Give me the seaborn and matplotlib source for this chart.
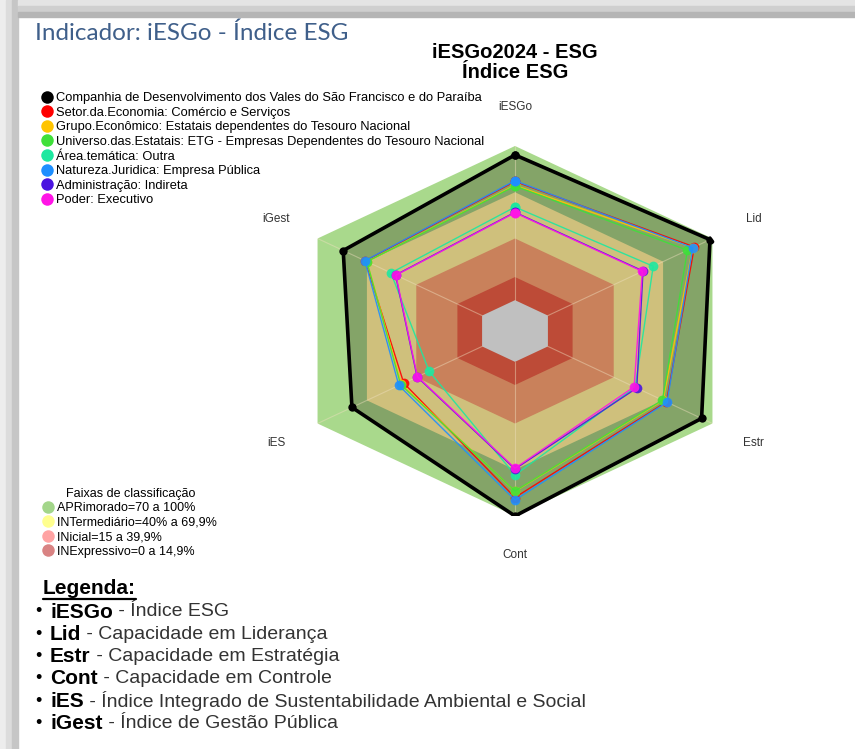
import numpy as np
import pandas as pd
import matplotlib
matplotlib.use('Agg')
import matplotlib.pyplot as plt
from matplotlib.patches import Rectangle
from matplotlib.lines import Line2D
import seaborn as sns

# eixos do radar (sentido horario a partir do topo)
eixos = ['iESGo', 'Lid', 'Estr', 'Cont', 'iES', 'iGest']

series_nomes = [
    'Companhia de Desenvolvimento dos Vales do São Francisco e do Paraíba',
    'Setor.da.Economia: Comércio e Serviços',
    'Grupo.Econômico: Estatais dependentes do Tesouro Nacional',
    'Universo.das.Estatais: ETG - Empresas Dependentes do Tesouro Nacional',
    'Área.temática: Outra',
    'Natureza.Juridica: Empresa Pública',
    'Administração: Indireta',
    'Poder: Executivo',
]
series_cores = ['#000000', '#ff0000', '#ffc400', '#3fe03a', '#1de8a0',
                '#1e8fff', '#4a14e0', '#ff14e6']

companhia = [94.2, 98.5, 93.4, 100.0, 79.1, 84.4]
setor = [77.0, 89.0, 72.0, 88.0, 47.6, 71.0]
grupo = [74.5, 88.0, 70.0, 84.0, 49.0, 70.0]
universo = [74.0, 84.8, 69.6, 83.8, 49.5, 70.0]
area_tematica = [60.4, 64.0, 53.0, 73.4, 32.2, 55.4]
natureza = [77.5, 88.0, 72.4, 89.6, 50.6, 71.2]
administracao = [57.0, 57.8, 54.0, 69.5, 39.5, 52.6]
poder = [56.7, 57.4, 52.4, 69.0, 39.3, 52.4]
valores = [companhia, setor, grupo, universo, area_tematica, natureza,
           administracao, poder]

# faixas de classificacao
faixas_nomes = ['APRimorado=70 a 100%', 'INTermediário=40% a 69,9%',
                'INicial=15 a 39,9%', 'INExpressivo=0 a 14,9%']
faixas_cores = ['#a3d68a', '#ffff8f', '#ffa3a3', '#d98383']
faixas_limites = [100, 70, 40, 15, 0]
faixas_preench = ['#a9d98c', '#cfc07c', '#c9815b', '#bd4b37', '#c0c0c0']
companhia_preench = '#84a468'

legenda_chaves = ['iESGo', 'Lid', 'Estr', 'Cont', 'iES', 'iGest']
legenda_desc = ['Índice ESG', 'Capacidade em Liderança',
                'Capacidade em Estratégia', 'Capacidade em Controle',
                'Índice Integrado de Sustentabilidade Ambiental e Social',
                'Índice de Gestão Pública']

sns.set_style('white')
plt.rcParams['font.family'] = ['Liberation Sans', 'DejaVu Sans']
plt.rcParams['text.color'] = 'black'

W, H = 855, 749
fig = plt.figure(figsize=(W / 100, H / 100), dpi=100)

# moldura cinza do print
for x0, w, c in [(0, 6, '#ededed'), (6, 6, '#dcdcdc'), (12, 6, '#c6c6c6')]:
    fig.patches.append(Rectangle((x0 / W, 0), w / W, 1, transform=fig.transFigure,
                                 color=c, zorder=0))
for y0, h, c in [(0, 6, '#e4e4e4'), (6, 6, '#cfcfcf'), (12, 5, '#b5b5b5')]:
    fig.patches.append(Rectangle((18 / W, 1 - (y0 + h) / H), 1, h / H,
                                 transform=fig.transFigure, color=c, zorder=0))

fig.text(35 / W, 1 - 33 / H, 'Indicador: iESGo - Índice ESG', fontsize=17.5,
         family='Lato', color='#3f5f8a', va='center', ha='left')
fig.text(515 / W, 1 - 52 / H, 'iESGo2024 - ESG', fontsize=14.5, weight='bold',
         ha='center', va='center')
fig.text(515 / W, 1 - 72 / H, 'Índice ESG', fontsize=14.5, weight='bold',
         ha='center', va='center')

# radar (achatado verticalmente como no original)
ax = fig.add_axes([287 / W, 1 - 516 / H, 456 / W, 370 / H], projection='polar')
ax.set_aspect('auto')
ax.set_theta_offset(np.pi / 2)
ax.set_theta_direction(-1)
ax.patch.set_alpha(0)

theta = np.linspace(0, 2 * np.pi, len(eixos), endpoint=False)
theta_f = np.append(theta, 2 * np.pi)

ax.fill(theta_f, [faixas_limites[0]] * 7, color=faixas_preench[0], lw=0, zorder=1)
ax.fill(theta_f, companhia + companhia[:1], color=companhia_preench, lw=0, zorder=2)
for lim, cor in zip(faixas_limites[1:], faixas_preench[1:]):
    ax.fill(theta_f, [lim] * 7, color=cor, lw=0, zorder=3)
for t in theta:
    ax.plot([t, t], [0, 100], color='#f0e0c0', alpha=0.45, lw=0.8, zorder=4)

linhas = []
for nome, vals in zip(series_nomes, valores):
    for i, t in enumerate(list(theta_f)):
        linhas.append({'serie': nome, 'theta': t, 'valor': vals[i % 6], 'ordem': i})
df = pd.DataFrame(linhas)
paleta = dict(zip(series_nomes, series_cores))

sns.lineplot(data=df[df['serie'] == series_nomes[0]], x='theta', y='valor',
             color='black', sort=False, estimator=None, lw=2.6, marker='o',
             markersize=6, markeredgewidth=0, legend=False, ax=ax, zorder=5)
sns.lineplot(data=df[df['serie'] != series_nomes[0]], x='theta', y='valor',
             hue='serie', hue_order=series_nomes[1:], palette=paleta,
             sort=False, estimator=None, lw=1.0, marker='o', markersize=7,
             markeredgewidth=0, legend=False, ax=ax, zorder=6, alpha=0.9)

ax.set_ylim(-20, 100)
ax.set_xticks([])
ax.set_yticks([])
ax.grid(False)
ax.spines['polar'].set_visible(False)
ax.set_xlabel('')
ax.set_ylabel('')
for t, lab in zip(theta, eixos):
    ax.text(t, 125, lab, ha='center', va='center', fontsize=8.5, color='#333333')

# legenda das series
h_series = [Line2D([], [], marker='o', ls='', color=c, markersize=9,
                   markeredgewidth=0) for c in series_cores]
fig.legend(h_series, series_nomes, loc='upper left',
           bbox_to_anchor=(42 / W, 1 - 92 / H), frameon=False, fontsize=9.3,
           handlelength=0.75, handletextpad=0.3, labelspacing=0.2,
           borderpad=0, borderaxespad=0)

# legenda das faixas
h_faixas = [Line2D([], [], marker='o', ls='', color=c, markersize=9,
                   markeredgewidth=0) for c in faixas_cores]
fig.legend(h_faixas, faixas_nomes, loc='upper left',
           title='Faixas de classificação', title_fontsize=9,
           bbox_to_anchor=(40 / W, 1 - 484 / H), frameon=False,
           fontsize=9, handlelength=0.75, handletextpad=0.3,
           labelspacing=0.2, borderpad=0.3, borderaxespad=0)

# bloco "Legenda:"
renderer = fig.canvas.get_renderer()
t_leg = fig.text(43 / W, 1 - 588 / H, 'Legenda:', fontsize=15, weight='bold',
                 va='center', ha='left')
bb = t_leg.get_window_extent(renderer)
fig.add_artist(Line2D([bb.x0, bb.x1], [bb.y0 - 1, bb.y0 - 1], color='black',
                      lw=1.6, transform=None))

for i, (k, d) in enumerate(zip(legenda_chaves, legenda_desc)):
    y = 1 - (612 + 22.3 * i) / H
    fig.text(38 / W, y, '•', fontsize=13, ha='center', va='center')
    tk = fig.text(50 / W, y, k, fontsize=15, weight='bold', va='center', ha='left')
    x1 = tk.get_window_extent(renderer).x1 / W
    fig.text(x1, y, ' - ' + d, fontsize=14, color='#333333', va='center',
             ha='left', family=['Liberation Sans Narrow', 'Liberation Sans'])

fig.savefig('out.png', dpi=100)
